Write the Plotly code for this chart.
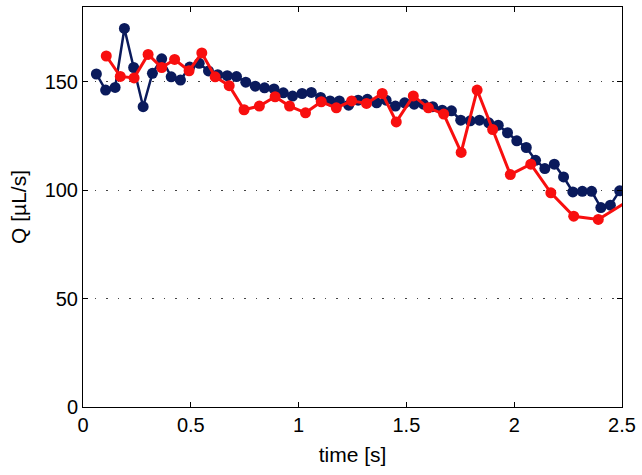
import plotly.graph_objects as go

blue_t = [0.062, 0.105, 0.149, 0.192, 0.235, 0.279, 0.322, 0.365, 0.409, 0.452,
          0.495, 0.539, 0.582, 0.625, 0.669, 0.712, 0.755, 0.799, 0.842, 0.886,
          0.929, 0.972, 1.016, 1.059, 1.102, 1.146, 1.189, 1.232, 1.276, 1.319,
          1.362, 1.406, 1.449, 1.492, 1.536, 1.579, 1.622, 1.666, 1.709, 1.752,
          1.796, 1.839, 1.882, 1.926, 1.969, 2.012, 2.056, 2.099, 2.142, 2.186,
          2.229, 2.272, 2.316, 2.359, 2.402, 2.446, 2.489]
blue_q = [153.6, 146.2, 147.4, 174.6, 156.6, 138.5, 153.9, 160.6, 152.3, 150.8,
          156.8, 158.5, 155.0, 153.3, 152.8, 152.4, 149.8, 148.0, 147.2, 146.7,
          144.9, 143.4, 144.6, 145.1, 142.8, 141.2, 141.2, 139.2, 141.5, 141.9,
          140.3, 141.5, 138.8, 140.3, 139.7, 139.7, 138.5, 136.9, 136.6, 132.3,
          132.0, 132.3, 131.1, 130.0, 126.5, 122.8, 119.7, 113.8, 110.0, 112.0,
          106.1, 99.2, 99.5, 99.5, 92.0, 93.1, 99.7]

red_t = [0.108, 0.173, 0.237, 0.302, 0.365, 0.425, 0.492, 0.551, 0.613, 0.678,
         0.747, 0.818, 0.891, 0.958, 1.032, 1.105, 1.175, 1.246, 1.315, 1.388,
         1.453, 1.532, 1.602, 1.673, 1.754, 1.828, 1.900, 1.982, 2.077, 2.170,
         2.276, 2.390, 2.600]
red_q = [161.9, 152.5, 151.8, 162.6, 156.6, 160.3, 155.1, 163.3, 152.3, 148.2,
         137.1, 138.8, 143.1, 138.8, 135.7, 140.8, 138.0, 141.2, 140.0, 144.6,
         131.5, 143.5, 138.0, 135.1, 117.4, 146.2, 128.0, 107.2, 112.0, 98.8,
         88.0, 86.5, 99.5]

x_ticks = [0, 0.5, 1, 1.5, 2, 2.5]
x_labels = ["0", "0.5", "1", "1.5", "2", "2.5"]
y_ticks = [0, 50, 100, 150]

BLUE = "#0a1a5c"
RED = "#f80f0f"
FONT = "Liberation Sans, Arial, Helvetica, sans-serif"

fig = go.Figure()
fig.add_trace(go.Scatter(x=blue_t, y=blue_q, mode="lines+markers",
                         line=dict(color=BLUE, width=2.5),
                         marker=dict(color=BLUE, size=11), showlegend=False))
fig.add_trace(go.Scatter(x=red_t, y=red_q, mode="lines+markers",
                         line=dict(color=RED, width=3),
                         marker=dict(color=RED, size=11), showlegend=False))

fig.update_layout(
    width=642, height=475,
    margin=dict(l=83, r=20, t=7, b=68),
    paper_bgcolor="white", plot_bgcolor="white",
    font=dict(family=FONT, size=20, color="black"),
    xaxis=dict(range=[0, 2.5], tickvals=x_ticks, ticktext=x_labels,
               showgrid=False, zeroline=False, showline=True, mirror="ticks",
               linecolor="black", linewidth=1, ticks="inside", ticklen=5,
               tickcolor="black", tickfont=dict(size=20),
               title=dict(text="time [s]", standoff=12, font=dict(size=21))),
    yaxis=dict(range=[0, 184.5], tickvals=y_ticks,
               showgrid=True, gridcolor="#444444", gridwidth=1,
               griddash="1.5px,10px",
               zeroline=False, showline=True, mirror="ticks",
               linecolor="black", linewidth=1, ticks="inside", ticklen=5,
               tickcolor="black", tickfont=dict(size=20),
               title=dict(text="Q [µL/s]", standoff=12, font=dict(size=21))),
)

fig.write_html("out.html", config={"displayModeBar": False},
               post_script="document.body.style.margin='0';document.body.style.padding='0';")
